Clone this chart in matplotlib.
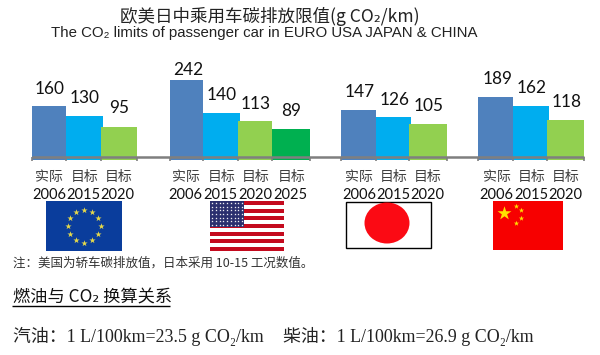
import numpy as np
from matplotlib import pyplot as plt
from matplotlib.patches import Ellipse, Rectangle

CJK = ['Noto Sans CJK SC', 'DejaVu Sans']
NUM = ['Lato', 'Noto Sans CJK SC']
SERIF = ['Liberation Serif', 'Noto Sans CJK SC', 'DejaVu Sans']

# values per region
eu_values = [160, 130, 95]
usa_values = [242, 140, 113, 89]
japan_values = [147, 126, 105]
china_values = [189, 162, 118]

eu_labels = ['实际', '目标', '目标']
usa_labels = ['实际', '目标', '目标', '目标']
japan_labels = ['实际', '目标', '目标']
china_labels = ['实际', '目标', '目标']

eu_years = ['2006', '2015', '2020']
usa_years = ['2006', '2015', '2020', '2025']
japan_years = ['2006', '2015', '2020']
china_years = ['2006', '2015', '2020']

BLUE = '#4f81bd'
CYAN = '#00adef'
LIME = '#92d050'
GREEN = '#00b050'
bar_colors = [BLUE, CYAN, LIME, GREEN]

# layout in pixels: bar edges, value label positions
groups = [
    (eu_values, eu_labels, eu_years, [32, 66, 101, 137],
     [50, 85, 119], [89, 98, 108], [49, 85, 119], [49, 83, 117]),
    (usa_values, usa_labels, usa_years, [170, 203, 238, 272, 310],
     [188, 222, 256, 291], [70, 95, 104, 111], [186, 222, 256, 292], [185, 220, 255, 290]),
    (japan_values, japan_labels, japan_years, [341, 376, 409, 447],
     [360, 395, 429], [92, 100, 106], [359, 394, 428], [359, 393, 427]),
    (china_values, china_labels, china_years, [478, 513, 547, 584],
     [498, 532, 567], [79, 88, 102], [497, 532, 566], [496, 531, 565]),
]

W, H = 600, 355
BASE = 157
SCALE = 0.317
DROP = 3

fig = plt.figure(figsize=(6, 3.55), dpi=100)

# bar axes: x in pixels, y in chart units with 0 on the baseline
ax = fig.add_axes([0, 0, 1, 1])
ax.set_xlim(0, W)
ax.set_ylim(-(H - BASE) / SCALE, BASE / SCALE)
ax.axis('off')

# overlay axes in pixels for texts and flags
px = fig.add_axes([0, 0, 1, 1])
px.set_xlim(0, W)
px.set_ylim(H, 0)
px.axis('off')
px.patch.set_alpha(0)

for values, labels, years, edges, vx, vy, lx, yx in groups:
    for i, v in enumerate(values):
        # later bars sit on top of the wider second bar
        right = edges[i + 1] + (2 if i == 1 else 0)
        ax.bar(edges[i], v + DROP / SCALE, width=right - edges[i], bottom=-DROP / SCALE,
               align='edge', color=bar_colors[i], linewidth=0, zorder=2 + i)
        px.text(vx[i], vy[i], str(v), ha='center', va='center', fontsize=12.4,
                family=NUM, color='#111111')
        px.text(lx[i], 177, labels[i], ha='center', va='center', fontsize=10,
                family=CJK, color='#404040')
        px.text(yx[i], 195, years[i], ha='center', va='center', fontsize=10.5,
                family=NUM, color='#111111')
    px.vlines(edges, BASE, BASE + 4, color='#7f7f7f', linewidth=1.2)

px.hlines(BASE, 32, 584, color='#7f7f7f', linewidth=1.8, zorder=8)

# titles
px.text(270, 16, '欧美日中乘用车碳排放限值(g CO₂/km)', ha='center', va='center', fontsize=12.6,
        family=CJK, color='#222222')
px.text(264.5, 33, 'The CO₂ limits of passenger car in EURO USA JAPAN & CHINA', ha='center', va='center',
        fontsize=10.85, family=['Liberation Sans', 'DejaVu Sans'], color='#222222')

# EU flag
px.add_patch(Rectangle((46, 201), 76, 50, color='#0a3d9c', lw=0))
angles = np.deg2rad(np.arange(0, 360, 30))
px.scatter(84 + 16.5 * np.cos(angles), 226 + 16.5 * np.sin(angles), marker='*', s=22,
           color='#e6d94a', linewidths=0)

# USA flag
for k in range(13):
    c = '#c40a1e' if k % 2 == 0 else 'white'
    px.add_patch(Rectangle((210, 201 + k * 50 / 13), 74, 50 / 13, color=c, lw=0))
px.add_patch(Rectangle((210, 201), 34, 26, color='#2a2f6e', lw=0, zorder=3))
sx, sy = np.meshgrid(np.linspace(212, 242, 9), np.linspace(203, 225, 7))
px.scatter(sx.ravel(), sy.ravel(), marker='*', s=3, color='white', linewidths=0, zorder=4)

# Japan flag
px.add_patch(Rectangle((346, 201.5), 84.5, 46.5, facecolor='white', edgecolor='black', lw=1))
px.add_patch(Ellipse((387, 223), 45, 41, color='#fb0a14', lw=0))

# China flag
px.add_patch(Rectangle((493, 201), 70, 49, color='#f70000', lw=0))
px.scatter([503.5], [212.5], marker='*', s=110, color='#ffe000', linewidths=0)
px.scatter([516, 521, 521, 516], [205.5, 210, 218, 222.5], marker='*', s=16, color='#ffe000', linewidths=0)

# note and conversion
px.text(13, 263, '注：美国为轿车碳排放值，日本采用 10-15 工况数值。', ha='left', va='center', fontsize=9,
        family=CJK, color='#333333')
px.text(13, 297, '燃油与 CO₂ 换算关系', ha='left', va='center', fontsize=12.4, family=CJK, color='#111111')
px.hlines(305.5, 12, 170, color='black', linewidth=1)
px.text(13, 336, '汽油：1 L/100km=23.5 g CO₂/km', ha='left', va='center', fontsize=12.9,
        family=SERIF, color='#222222')
px.text(283, 336, '柴油：1 L/100km=26.9 g CO₂/km', ha='left', va='center', fontsize=12.9,
        family=SERIF, color='#222222')

fig.savefig('out.png', dpi=100)
